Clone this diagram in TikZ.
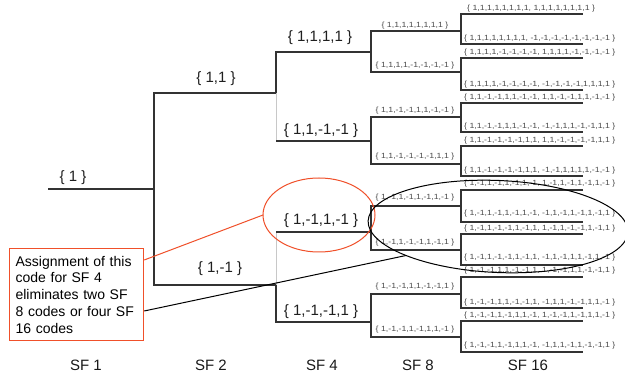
\documentclass[tikz,border=0pt]{standalone}
\usepackage{fontspec}
\setmainfont{Liberation Sans}
\newfontfamily\codefont[FakeStretch=1.17]{Liberation Sans}
\usetikzlibrary{shapes.geometric,calc}
\definecolor{treeline}{HTML}{333333}
\definecolor{paleline}{HTML}{C8C8C8}
\definecolor{callout}{HTML}{F0502A}
\definecolor{codetext}{HTML}{4A4A4A}
\begin{document}
\begin{tikzpicture}[x=1pt,y=-1pt,
  branch/.style={draw=treeline, line width=1.1pt},
  pale/.style={draw=paleline, line width=1pt},
  bigcode/.style={font=\fontsize{15}{18}\selectfont, text=black!88, anchor=base, inner sep=0pt},
  midcode/.style={font=\codefont\fontsize{7.5}{8}\selectfont, text=codetext, anchor=base, inner sep=0pt},
  leafcode/.style={midcode, anchor=base west},
  sfname/.style={font=\fontsize{15}{18}\selectfont, text=black!90, anchor=base, inner sep=0pt},
  ring/.style={ellipse, draw, line width=1pt, inner sep=0pt, outer sep=0pt}]
\useasboundingbox (0,0) rectangle (625,379);
\fill[white] (0,0) rectangle (625,379);
\clip (0,0) rectangle (625,379);

% branch points of the code tree
\coordinate (start) at (48,189);
\coordinate (n1)  at (154,189);
\coordinate (n2a) at (276,93);
\coordinate (n2b) at (276,285);
\coordinate (n4a) at (371,52);
\coordinate (n4b) at (371,141);
\coordinate (n4c) at (371,232);
\coordinate (n4d) at (371,322);
\foreach \k/\y in {1/31,2/72,3/117,4/164,5/206,6/250,7/294,8/337}
  \coordinate (n8-\k) at (461,\y);
\foreach \k/\y in {1/14,2/44,3/58,4/90,5/103,6/132,7/146,8/176,
                   9/190,10/222,11/234,12/265,13/277,14/308,15/321,16/352}
  \coordinate (e16-\k) at (583,\y);

% SF 1 and SF 2
\draw[branch] (start) -- (n1);
\draw[branch] (n1) |- (n2a);
\draw[branch] (n1) |- (n2b);

% SF 4 (the inner halves of the two verticals are pale)
\draw[branch] (n2a) |- (n4a);
\draw[pale] (n2a) -- (n2a |- n4b);
\draw[branch] (n2a |- n4b) -- (n4b);
\draw[pale] (n2b) -- (n2b |- n4c);
\draw[branch] (n2b |- n4c) -- (n4c);
\draw[branch] (n2b) |- (n4d);

% SF 8
\foreach \p/\c in {n4a/1,n4a/2,n4b/3,n4b/4,n4c/5,n4c/6,n4d/7,n4d/8}
  \draw[branch] (\p) |- (n8-\c);

% SF 16
\foreach \k in {1,...,8}{
  \pgfmathtruncatemacro\ca{2*\k-1}
  \pgfmathtruncatemacro\cb{2*\k}
  \draw[branch] (n8-\k) |- (e16-\ca);
  \draw[branch] (n8-\k) |- (e16-\cb);
}

% code labels
\node[bigcode] (c1) at (73,182) {\{ 1 \}};
\node[bigcode] (c2a) at (216,83) {\{ 1,1 \}};
\node[bigcode] (c2b) at (220,273) {\{ 1,-1 \}};
\node[bigcode] (c4a) at (320,42) {\{ 1,1,1,1 \}};
\node[bigcode] (c4b) at (321,135) {\{ 1,1,-1,-1 \}};
\node[bigcode] (c4c) at (321,225) {\{ 1,-1,1,-1 \}};
\node[bigcode] (c4d) at (321,316) {\{ 1,-1,-1,1 \}};

\node[midcode] (c8-1) at (415,27.5) {\{ 1,1,1,1,1,1,1,1 \}};
\node[midcode] (c8-2) at (415,67.5) {\{ 1,1,1,1,-1,-1,-1,-1 \}};
\node[midcode] (c8-3) at (415,112.5) {\{ 1,1,-1,-1,1,1,-1,-1 \}};
\node[midcode] (c8-4) at (415,159) {\{ 1,1,-1,-1,-1,-1,1,1 \}};
\node[midcode] (c8-5) at (415,200) {\{ 1,-1,1,-1,1,-1,1,-1 \}};
\node[midcode] (c8-6) at (415,244.5) {\{ 1,-1,1,-1,-1,1,-1,1 \}};
\node[midcode] (c8-7) at (415,288.5) {\{ 1,-1,-1,1,1,-1,-1,1 \}};
\node[midcode] (c8-8) at (415,332) {\{ 1,-1,-1,1,-1,1,1,-1 \}};

\node[leafcode] (c16-1) at (467,11) {\{ 1,1,1,1,1,1,1,1, 1,1,1,1,1,1,1,1 \}};
\node[leafcode] (c16-2) at (464,41) {\{ 1,1,1,1,1,1,1,1, -1,-1,-1,-1,-1,-1,-1,-1 \}};
\node[leafcode] (c16-3) at (464,55) {\{ 1,1,1,1,-1,-1,-1,-1, 1,1,1,1,-1,-1,-1,-1 \}};
\node[leafcode] (c16-4) at (464,87) {\{ 1,1,1,1,-1,-1,-1,-1, -1,-1,-1,-1,1,1,1,1 \}};
\node[leafcode] (c16-5) at (464,100) {\{ 1,1,-1,-1,1,1,-1,-1, 1,1,-1,-1,1,1,-1,-1 \}};
\node[leafcode] (c16-6) at (464,129) {\{ 1,1,-1,-1,1,1,-1,-1, -1,-1,1,1,-1,-1,1,1 \}};
\node[leafcode] (c16-7) at (464,143) {\{ 1,1,-1,-1,-1,-1,1,1, 1,1,-1,-1,-1,-1,1,1 \}};
\node[leafcode] (c16-8) at (464,173) {\{ 1,1,-1,-1,-1,-1,1,1, -1,-1,1,1,1,1,-1,-1 \}};
\node[leafcode] (c16-9) at (464,186) {\{ 1,-1,1,-1,1,-1,1,-1, 1,-1,1,-1,1,-1,1,-1 \}};
\node[leafcode] (c16-10) at (464,216) {\{ 1,-1,1,-1,1,-1,1,-1, -1,1,-1,1,-1,1,-1,1 \}};
\node[leafcode] (c16-11) at (464,231) {\{ 1,-1,1,-1,-1,1,-1,1, 1,-1,1,-1,-1,1,-1,1 \}};
\node[leafcode] (c16-12) at (464,260) {\{ 1,-1,1,-1,-1,1,-1,1, -1,1,-1,1,1,-1,1,-1 \}};
\node[leafcode] (c16-13) at (464,273) {\{ 1,-1,-1,1,1,-1,-1,1, 1,-1,-1,1,1,-1,-1,1 \}};
\node[leafcode] (c16-14) at (464,305) {\{ 1,-1,-1,1,1,-1,-1,1, -1,1,1,-1,-1,1,1,-1 \}};
\node[leafcode] (c16-15) at (464,318) {\{ 1,-1,-1,1,-1,1,1,-1, 1,-1,-1,1,-1,1,1,-1 \}};
\node[leafcode] (c16-16) at (464,348) {\{ 1,-1,-1,1,-1,1,1,-1, -1,1,1,-1,1,-1,-1,1 \}};

% spreading factor captions
\node[sfname] (sf1) at (86,371) {SF 1};
\node[sfname] (sf2) at (211,371) {SF 2};
\node[sfname] (sf4) at (322,371) {SF 4};
\node[sfname] (sf8) at (418,371) {SF 8};
\node[sfname] (sf16) at (528,371) {SF 16};

% highlighted SF 4 code and the codes below it
\node[ring, draw=callout, minimum width=112pt, minimum height=74pt] (hl4) at (319,215) {};
\node[ring, draw=black, rotate=-2.5, minimum width=260pt, minimum height=92pt] (hl16) at (498,226.5) {};

% explanation box
\node[draw=callout, line width=1.2pt, anchor=north west, minimum width=134pt,
      minimum height=92pt, text width=122pt, inner xsep=6pt, align=left,
      font=\fontsize{14}{16.7}\selectfont] (note) at (9,248)
  {Assignment of this\\code for SF 4\\eliminates two SF\\8 codes or four SF\\16 codes};
\coordinate (noteA) at ($(note.north east)+(0,12)$);
\coordinate (noteB) at ($(note.north east)+(0,63)$);
\draw[callout, line width=1pt] (noteA) -- (hl4.west);
\draw[black, line width=1pt] (noteB) -- (hl16.200);
\end{tikzpicture}
\end{document}
